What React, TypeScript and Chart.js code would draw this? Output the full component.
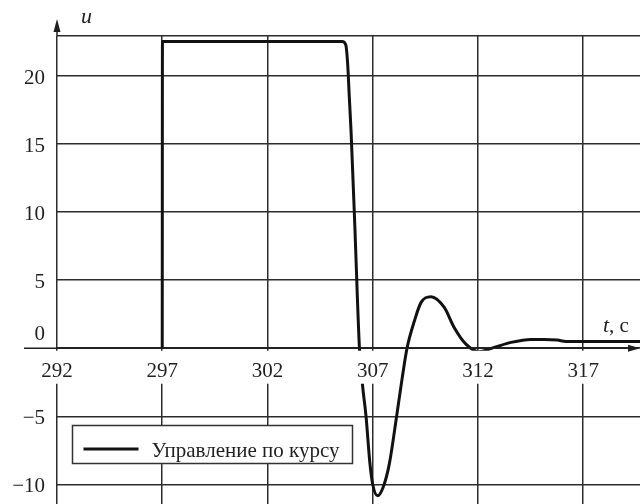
import React, { useEffect, useRef } from 'react';
import { Chart, registerables } from 'chart.js';

Chart.register(...registerables);

// Course control signal u(t)
const timeSec = [
  297, 297.01, 305.55, 305.72, 305.81, 305.89, 305.97, 306.15, 306.37, 306.52,
  306.68, 306.87, 307.0, 307.23, 307.5, 307.79, 308.14, 308.4, 308.63, 308.98,
  309.3, 309.77, 310.4, 310.87, 311.43, 312.06, 312.77, 313.57, 314.52, 315.15,
  315.77, 316.18, 319.7,
];
const control = [
  0, 22.54, 22.54, 22.3, 20.9, 18.4, 16.0, 9.0, 0, -2.76,
  -4.96, -8.5, -10.0, -10.85, -10.2, -8.5, -4.96, -2.2, 0, 2.0,
  3.37, 3.79, 3.0, 1.53, 0.3, -0.26, 0.06, 0.43, 0.65, 0.65,
  0.6, 0.5, 0.5,
];

const xTickValues = [292, 297, 302, 307, 312, 317];
const xTickLabels = ['292', '297', '302', '307', '312', '317'];
const yTickValues = [-10, -5, 0, 5, 10, 15, 20];
const yTickLabels = ['\u221210', '\u22125', '0', '5', '10', '15', '20'];

const seriesLabel = 'Управление по курсу';
const xAxisVar = 't';
const xAxisUnit = ', с';
const yAxisVar = 'u';

const X_MIN = 292;
const X_MAX = 319.7;
const Y_MIN = -11.45;
const Y_MAX = 22.95;

const SERIF = '"Liberation Serif", "Times New Roman", serif';
const INK = '#1f1f1f';
const GRID = '#2c2c2c';

const decorations = {
  id: 'decorations',
  afterDatasetsDraw(chart: any) {
    const { ctx, chartArea } = chart;
    const xs = chart.scales.x;
    const ys = chart.scales.y;
    const y0 = ys.getPixelForValue(0);
    const xl = xs.getPixelForValue(X_MIN);

    ctx.save();
    ctx.strokeStyle = INK;
    ctx.fillStyle = INK;
    ctx.lineWidth = 1.5;

    // horizontal axis with arrow
    ctx.beginPath();
    ctx.moveTo(chartArea.left - 33, y0);
    ctx.lineTo(chartArea.right - 8, y0);
    ctx.stroke();
    ctx.beginPath();
    ctx.moveTo(chartArea.right, y0);
    ctx.lineTo(chartArea.right - 12, y0 - 3.5);
    ctx.lineTo(chartArea.right - 12, y0 + 3.5);
    ctx.closePath();
    ctx.fill();

    // vertical axis extension with arrow
    ctx.beginPath();
    ctx.moveTo(xl, chartArea.top);
    ctx.lineTo(xl, chartArea.top - 6);
    ctx.stroke();
    ctx.beginPath();
    ctx.moveTo(xl, chartArea.top - 17);
    ctx.lineTo(xl - 3.5, chartArea.top - 4);
    ctx.lineTo(xl + 3.5, chartArea.top - 4);
    ctx.closePath();
    ctx.fill();

    ctx.font = `21px ${SERIF}`;
    ctx.textBaseline = 'alphabetic';

    // x tick labels on white backdrops
    xTickValues.forEach((v, i) => {
      const px = xs.getPixelForValue(v);
      const w = ctx.measureText(xTickLabels[i]).width;
      ctx.fillStyle = '#ffffff';
      ctx.fillRect(px - w / 2 - 3, y0 + 2.5, w + 6, 33);
      ctx.fillStyle = INK;
      ctx.textAlign = 'center';
      ctx.fillText(xTickLabels[i], px, y0 + 28.5);
    });

    // y tick labels
    ctx.textAlign = 'right';
    yTickValues.forEach((v, i) => {
      const py = ys.getPixelForValue(v);
      const base = v === 0 ? py - 8 : py + 8;
      ctx.fillText(yTickLabels[i], xl - 12, base);
    });

    // axis names
    ctx.textAlign = 'left';
    ctx.font = `italic 22px ${SERIF}`;
    ctx.fillText(yAxisVar, xl + 24, chartArea.top - 13);
    const tX = chartArea.right - 37;
    const tY = y0 - 16.5;
    ctx.fillText(xAxisVar, tX, tY);
    const tw = ctx.measureText(xAxisVar).width;
    ctx.font = `21px ${SERIF}`;
    ctx.fillText(xAxisUnit, tX + tw, tY);

    // legend box
    const lx = chartArea.left + 15.5;
    const ly = 425.5;
    const lw = 280;
    const lh = 38;
    ctx.fillStyle = '#ffffff';
    ctx.fillRect(lx, ly, lw, lh);
    ctx.strokeStyle = '#333333';
    ctx.lineWidth = 1.5;
    ctx.strokeRect(lx, ly, lw, lh);
    ctx.strokeStyle = '#111111';
    ctx.lineWidth = 3;
    ctx.beginPath();
    ctx.moveTo(lx + 11, ly + 23.5);
    ctx.lineTo(lx + 66, ly + 23.5);
    ctx.stroke();
    ctx.fillStyle = INK;
    ctx.font = `21px ${SERIF}`;
    ctx.fillText(seriesLabel, lx + 79, ly + 31);

    ctx.restore();
  },
};

export default function App() {
  const canvasRef = useRef<HTMLCanvasElement | null>(null);

  useEffect(() => {
    const canvas = canvasRef.current;
    if (!canvas) return;
    const chart = new Chart(canvas, {
      type: 'line',
      data: {
        datasets: [
          {
            label: seriesLabel,
            data: timeSec.map((t, i) => ({ x: t, y: control[i] })),
            borderColor: '#111111',
            borderWidth: 3,
            pointRadius: 0,
            fill: false,
            cubicInterpolationMode: 'monotone',
          },
        ],
      },
      options: {
        animation: false,
        responsive: false,
        devicePixelRatio: 1,
        layout: { padding: { left: 57, top: 36, right: 0, bottom: 0 } },
        plugins: {
          legend: { display: false },
          tooltip: { enabled: false },
        },
        events: [],
        scales: {
          x: {
            type: 'linear',
            min: X_MIN,
            max: X_MAX,
            afterBuildTicks: (s: any) => {
              s.ticks = xTickValues.map((v) => ({ value: v }));
            },
            ticks: { display: false },
            grid: { color: GRID, lineWidth: 1.5, drawTicks: false },
            border: { display: false },
          },
          y: {
            type: 'linear',
            min: Y_MIN,
            max: Y_MAX,
            afterBuildTicks: (s: any) => {
              s.ticks = [...yTickValues, Y_MAX].map((v) => ({ value: v }));
            },
            ticks: { display: false },
            grid: { color: GRID, lineWidth: 1.5, drawTicks: false },
            border: { display: false },
          },
        },
      },
      plugins: [decorations],
    } as any);
    return () => chart.destroy();
  }, []);

  return (
    <div style={{ position: 'absolute', left: 0, top: 0, width: 640, height: 504, background: '#ffffff' }}>
      <canvas ref={canvasRef} width={640} height={504} style={{ display: 'block', width: 640, height: 504 }} />
    </div>
  );
}
